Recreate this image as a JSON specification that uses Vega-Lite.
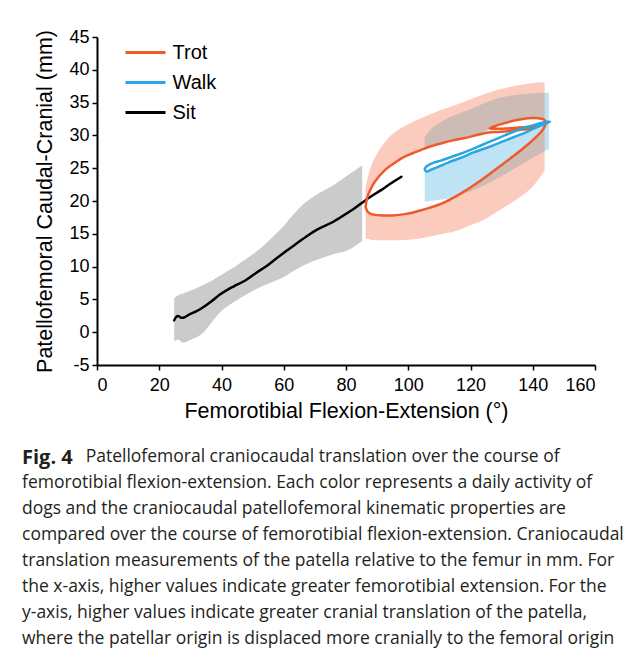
{
  "$schema": "https://vega.github.io/schema/vega-lite/v6.json",
  "width": 498,
  "height": 328,
  "autosize": "none",
  "padding": {"left": 97, "top": 37, "right": 35, "bottom": 290},
  "background": "white",
  "config": {
    "view": {"stroke": null},
    "font": "Liberation Sans",
    "axis": {
      "labelFont": "Liberation Sans", "labelFontSize": 18, "labelColor": "#000",
      "titleFont": "Liberation Sans", "titleFontSize": 21.5, "titleFontWeight": "normal", "titleColor": "#000",
      "domainColor": "#000", "domainWidth": 2, "tickColor": "#000", "tickWidth": 1.5, "tickSize": 5,
      "grid": false
    }
  },
  "title": {
    "text": "Fig. 4",
    "subtitle": [
      "\u200b\u00a0\u00a0\u00a0\u00a0\u00a0\u00a0\u00a0\u00a0\u00a0\u00a0\u00a0\u00a0\u00a0\u00a0Patellofemoral craniocaudal translation over the course of",
      "femorotibial flexion-extension. Each color represents a daily activity of",
      "dogs and the craniocaudal patellofemoral kinematic properties are",
      "compared over the course of femorotibial flexion-extension. Craniocaudal",
      "translation measurements of the patella relative to the femur in mm. For",
      "the x-axis, higher values indicate greater femorotibial extension. For the",
      "y-axis, higher values indicate greater cranial translation of the patella,",
      "where the patellar origin is displaced more cranially to the femoral origin"
    ],
    "orient": "bottom",
    "anchor": "start",
    "frame": "group",
    "dx": -75,
    "offset": 26,
    "font": "Open Sans",
    "fontSize": 20,
    "fontWeight": "bold",
    "color": "#231f20",
    "subtitleFont": "Open Sans",
    "subtitleFontSize": 17.5,
    "subtitleColor": "#231f20",
    "subtitleLineHeight": 26,
    "subtitlePadding": -20
  },
  "datasets": {
    "sitband": [
      {"x": 24.8, "y": -1.4, "y2": 5.2}, {"x": 26, "y": -1.1, "y2": 5.6}, {"x": 27.7, "y": -1.6, "y2": 5.9},
      {"x": 30, "y": -1.2, "y2": 6.3}, {"x": 34.1, "y": -0.1, "y2": 7.2}, {"x": 37, "y": 1.6, "y2": 7.9},
      {"x": 39.5, "y": 3.0, "y2": 8.6}, {"x": 44, "y": 4.6, "y2": 9.9}, {"x": 48, "y": 5.75, "y2": 11.2},
      {"x": 53, "y": 7.0, "y2": 13.0}, {"x": 56.6, "y": 7.7, "y2": 14.6}, {"x": 60, "y": 8.4, "y2": 16.2},
      {"x": 63, "y": 9.3, "y2": 17.9}, {"x": 66, "y": 10.1, "y2": 19.4}, {"x": 69.4, "y": 10.8, "y2": 20.6},
      {"x": 75.9, "y": 11.9, "y2": 22.4}, {"x": 80.2, "y": 12.4, "y2": 23.8}, {"x": 85.2, "y": 13.9, "y2": 25.4}
    ],
    "walkband": [
      {"x": 105.3, "y": 19.9, "y2": 29.7}, {"x": 107, "y": 20.0, "y2": 30.8}, {"x": 110, "y": 20.2, "y2": 31.9},
      {"x": 115, "y": 20.7, "y2": 33.1}, {"x": 120, "y": 21.5, "y2": 34.0}, {"x": 125, "y": 22.5, "y2": 35.0},
      {"x": 130, "y": 23.8, "y2": 35.8}, {"x": 135, "y": 25.2, "y2": 36.2}, {"x": 140, "y": 26.6, "y2": 36.4},
      {"x": 143.8, "y": 27.6, "y2": 36.5}, {"x": 145.2, "y": 27.9, "y2": 36.5}
    ],
    "trotband": [
      {"x": 86.3, "y": 14.3, "y2": 22.0}, {"x": 87, "y": 14.2, "y2": 23.6}, {"x": 88, "y": 14.1, "y2": 25.2},
      {"x": 90, "y": 14.0, "y2": 27.2}, {"x": 92, "y": 14.0, "y2": 28.7}, {"x": 95, "y": 14.0, "y2": 30.2},
      {"x": 100, "y": 14.1, "y2": 31.7}, {"x": 105, "y": 14.4, "y2": 32.8}, {"x": 110, "y": 14.9, "y2": 33.8},
      {"x": 115, "y": 15.4, "y2": 34.6}, {"x": 120, "y": 16.3, "y2": 35.5}, {"x": 125, "y": 17.3, "y2": 36.4},
      {"x": 130, "y": 18.8, "y2": 37.1}, {"x": 135, "y": 20.3, "y2": 37.6}, {"x": 140, "y": 22.2, "y2": 38.0},
      {"x": 143.8, "y": 24.6, "y2": 38.1}
    ],
    "overlap": [
      {"x": 105.3, "y": 19.9, "y2": 29.7}, {"x": 107, "y": 20.0, "y2": 30.8}, {"x": 110, "y": 20.2, "y2": 31.9},
      {"x": 115, "y": 20.7, "y2": 33.1}, {"x": 120, "y": 21.5, "y2": 34.0}, {"x": 125, "y": 22.5, "y2": 35.0},
      {"x": 130, "y": 23.8, "y2": 35.8}, {"x": 135, "y": 25.2, "y2": 36.2}, {"x": 140, "y": 26.6, "y2": 36.4},
      {"x": 143.8, "y": 27.6, "y2": 36.5}
    ],
    "hole": [
      {"x": 86.3, "y": 19.1, "y2": 19.1}, {"x": 86.6, "y": 18.6, "y2": 20.1}, {"x": 87.1, "y": 18.3, "y2": 20.9},
      {"x": 88, "y": 18.1, "y2": 21.8}, {"x": 89.2, "y": 17.95, "y2": 22.9}, {"x": 91, "y": 17.85, "y2": 23.9},
      {"x": 92.5, "y": 17.8, "y2": 24.7}, {"x": 95, "y": 17.8, "y2": 25.6}, {"x": 97.8, "y": 17.95, "y2": 26.5},
      {"x": 101, "y": 18.2, "y2": 27.2}, {"x": 104.2, "y": 18.6, "y2": 27.8}, {"x": 107, "y": 19.0, "y2": 28.3},
      {"x": 110.7, "y": 19.6, "y2": 28.8}, {"x": 114, "y": 20.4, "y2": 29.2}, {"x": 117.1, "y": 21.2, "y2": 29.6},
      {"x": 120, "y": 22.1, "y2": 29.95}, {"x": 123.5, "y": 23.2, "y2": 30.3}, {"x": 126, "y": 24.1, "y2": 30.9},
      {"x": 128, "y": 24.8, "y2": 31.4}, {"x": 130, "y": 25.5, "y2": 31.7}, {"x": 133.2, "y": 26.7, "y2": 32.1},
      {"x": 136.4, "y": 27.8, "y2": 32.4}, {"x": 138.5, "y": 28.6, "y2": 32.55}, {"x": 141.2, "y": 29.8, "y2": 32.6},
      {"x": 142.8, "y": 30.7, "y2": 32.5}, {"x": 143.6, "y": 31.2, "y2": 32.4}, {"x": 144.2, "y": 32.0, "y2": 32.1}
    ],
    "holeblue": [
      {"x": 105.3, "y": 19.9, "y2": 24.8}, {"x": 106, "y": 19.95, "y2": 24.6}, {"x": 109.6, "y": 20.15, "y2": 25.2},
      {"x": 112, "y": 20.3, "y2": 25.7}, {"x": 114, "y": 20.45, "y2": 26.1}, {"x": 117.1, "y": 21.2, "y2": 26.6},
      {"x": 121, "y": 22.4, "y2": 27.4}, {"x": 125.7, "y": 23.9, "y2": 28.2}, {"x": 130, "y": 25.5, "y2": 29.0},
      {"x": 134.2, "y": 27.0, "y2": 29.8}, {"x": 137.5, "y": 28.2, "y2": 30.5}, {"x": 140.6, "y": 29.5, "y2": 31.1},
      {"x": 142.5, "y": 30.5, "y2": 31.5}, {"x": 143.6, "y": 31.2, "y2": 31.8}
    ],
    "lines": [
      {"series": "Sit", "i": 1, "x": 24.8, "y": 1.8}, {"series": "Sit", "i": 2, "x": 25.4, "y": 2.3},
      {"series": "Sit", "i": 3, "x": 26.2, "y": 2.45}, {"series": "Sit", "i": 4, "x": 27, "y": 2.2},
      {"series": "Sit", "i": 5, "x": 28, "y": 2.25}, {"series": "Sit", "i": 6, "x": 30, "y": 2.8},
      {"series": "Sit", "i": 7, "x": 32, "y": 3.2}, {"series": "Sit", "i": 8, "x": 34.1, "y": 3.8},
      {"series": "Sit", "i": 9, "x": 37, "y": 4.8}, {"series": "Sit", "i": 10, "x": 39.5, "y": 5.75},
      {"series": "Sit", "i": 11, "x": 42, "y": 6.5}, {"series": "Sit", "i": 12, "x": 44, "y": 7.0},
      {"series": "Sit", "i": 13, "x": 48, "y": 8.0}, {"series": "Sit", "i": 14, "x": 51, "y": 9.0},
      {"series": "Sit", "i": 15, "x": 54.5, "y": 10.1}, {"series": "Sit", "i": 16, "x": 57.5, "y": 11.2},
      {"series": "Sit", "i": 17, "x": 60.9, "y": 12.4}, {"series": "Sit", "i": 18, "x": 64, "y": 13.5},
      {"series": "Sit", "i": 19, "x": 67.3, "y": 14.6}, {"series": "Sit", "i": 20, "x": 71, "y": 15.7},
      {"series": "Sit", "i": 21, "x": 75.8, "y": 16.8}, {"series": "Sit", "i": 22, "x": 80.2, "y": 18.1},
      {"series": "Sit", "i": 23, "x": 82.8, "y": 18.9}, {"series": "Sit", "i": 24, "x": 86.5, "y": 20.2},
      {"series": "Sit", "i": 25, "x": 91.4, "y": 21.7}, {"series": "Sit", "i": 26, "x": 94.5, "y": 22.7},
      {"series": "Sit", "i": 27, "x": 97.8, "y": 23.7},

      {"series": "Trot", "i": 1, "x": 86.3, "y": 19.1}, {"series": "Trot", "i": 2, "x": 86.9, "y": 18.4},
      {"series": "Trot", "i": 3, "x": 88.2, "y": 18.0}, {"series": "Trot", "i": 4, "x": 91.4, "y": 17.8},
      {"series": "Trot", "i": 5, "x": 95, "y": 17.8}, {"series": "Trot", "i": 6, "x": 98.9, "y": 18.0},
      {"series": "Trot", "i": 7, "x": 104.2, "y": 18.6}, {"series": "Trot", "i": 8, "x": 110.7, "y": 19.6},
      {"series": "Trot", "i": 9, "x": 117.1, "y": 21.2}, {"series": "Trot", "i": 10, "x": 123.5, "y": 23.2},
      {"series": "Trot", "i": 11, "x": 130.0, "y": 25.5}, {"series": "Trot", "i": 12, "x": 136.4, "y": 27.8},
      {"series": "Trot", "i": 13, "x": 141.2, "y": 29.8}, {"series": "Trot", "i": 14, "x": 143.4, "y": 31.0},
      {"series": "Trot", "i": 15, "x": 144.2, "y": 31.9}, {"series": "Trot", "i": 16, "x": 143.7, "y": 32.4},
      {"series": "Trot", "i": 17, "x": 141.8, "y": 32.6}, {"series": "Trot", "i": 18, "x": 138.5, "y": 32.6},
      {"series": "Trot", "i": 19, "x": 134.5, "y": 32.3}, {"series": "Trot", "i": 20, "x": 130.5, "y": 31.8},
      {"series": "Trot", "i": 21, "x": 127.8, "y": 31.4}, {"series": "Trot", "i": 22, "x": 126.2, "y": 31.05},
      {"series": "Trot", "i": 23, "x": 128, "y": 31.0}, {"series": "Trot", "i": 24, "x": 131, "y": 31.05},
      {"series": "Trot", "i": 25, "x": 135, "y": 31.15}, {"series": "Trot", "i": 26, "x": 139, "y": 31.3},
      {"series": "Trot", "i": 27, "x": 141.7, "y": 31.35}, {"series": "Trot", "i": 28, "x": 139, "y": 31.0},
      {"series": "Trot", "i": 29, "x": 135, "y": 30.8}, {"series": "Trot", "i": 30, "x": 131, "y": 30.6},
      {"series": "Trot", "i": 31, "x": 127.5, "y": 30.5}, {"series": "Trot", "i": 32, "x": 125.7, "y": 30.45},
      {"series": "Trot", "i": 33, "x": 122, "y": 30.05}, {"series": "Trot", "i": 34, "x": 118.2, "y": 29.6},
      {"series": "Trot", "i": 35, "x": 114, "y": 29.2}, {"series": "Trot", "i": 36, "x": 110.7, "y": 28.8},
      {"series": "Trot", "i": 37, "x": 107, "y": 28.3}, {"series": "Trot", "i": 38, "x": 104.2, "y": 27.8},
      {"series": "Trot", "i": 39, "x": 101, "y": 27.2}, {"series": "Trot", "i": 40, "x": 97.8, "y": 26.5},
      {"series": "Trot", "i": 41, "x": 95, "y": 25.6}, {"series": "Trot", "i": 42, "x": 92.5, "y": 24.7},
      {"series": "Trot", "i": 43, "x": 89.2, "y": 22.9}, {"series": "Trot", "i": 44, "x": 87.6, "y": 21.5},
      {"series": "Trot", "i": 45, "x": 86.7, "y": 20.3}, {"series": "Trot", "i": 46, "x": 86.3, "y": 19.1},

      {"series": "Walk", "i": 1, "x": 105.3, "y": 24.8}, {"series": "Walk", "i": 2, "x": 105.7, "y": 25.2},
      {"series": "Walk", "i": 3, "x": 106.4, "y": 25.45}, {"series": "Walk", "i": 4, "x": 108, "y": 25.8},
      {"series": "Walk", "i": 5, "x": 110.7, "y": 26.2}, {"series": "Walk", "i": 6, "x": 114.9, "y": 26.9},
      {"series": "Walk", "i": 7, "x": 119, "y": 27.6}, {"series": "Walk", "i": 8, "x": 123.5, "y": 28.5},
      {"series": "Walk", "i": 9, "x": 127, "y": 29.2}, {"series": "Walk", "i": 10, "x": 131, "y": 30.0},
      {"series": "Walk", "i": 11, "x": 134, "y": 30.6}, {"series": "Walk", "i": 12, "x": 136.4, "y": 31.0},
      {"series": "Walk", "i": 13, "x": 140.6, "y": 31.6}, {"series": "Walk", "i": 14, "x": 143, "y": 31.95},
      {"series": "Walk", "i": 15, "x": 145.5, "y": 32.1}, {"series": "Walk", "i": 16, "x": 143.5, "y": 31.7},
      {"series": "Walk", "i": 17, "x": 140.6, "y": 31.1}, {"series": "Walk", "i": 18, "x": 137.5, "y": 30.4},
      {"series": "Walk", "i": 19, "x": 134.2, "y": 29.8}, {"series": "Walk", "i": 20, "x": 130, "y": 29.0},
      {"series": "Walk", "i": 21, "x": 125.7, "y": 28.2}, {"series": "Walk", "i": 22, "x": 121, "y": 27.4},
      {"series": "Walk", "i": 23, "x": 117.1, "y": 26.6}, {"series": "Walk", "i": 24, "x": 113, "y": 25.9},
      {"series": "Walk", "i": 25, "x": 109.6, "y": 25.2}, {"series": "Walk", "i": 26, "x": 107.5, "y": 24.8},
      {"series": "Walk", "i": 27, "x": 105.8, "y": 24.5}, {"series": "Walk", "i": 28, "x": 105.3, "y": 24.8}
    ]
  },
  "encoding": {
    "x": {
      "field": "x", "type": "quantitative",
      "scale": {"domain": [0, 160], "nice": false, "zero": false},
      "axis": {"values": [0, 20, 40, 60, 80, 100, 120, 140, 160], "title": "Femorotibial Flexion-Extension (°)", "labelPadding": 6, "titlePadding": 6}
    },
    "y": {
      "field": "y", "type": "quantitative",
      "scale": {"domain": [-5, 45], "nice": false, "zero": false},
      "axis": {"values": [-5, 0, 5, 10, 15, 20, 25, 30, 35, 40, 45], "labelExpr": "'' + datum.value", "title": "Patellofemoral Caudal-Cranial (mm)", "labelPadding": 3, "titlePadding": 12}
    }
  },
  "layer": [
    {"data": {"name": "sitband"}, "mark": {"type": "area", "color": "#cbcbcb", "interpolate": "monotone"}, "encoding": {"y2": {"field": "y2"}}},
    {"data": {"name": "walkband"}, "mark": {"type": "area", "color": "#bee3f4", "interpolate": "monotone"}, "encoding": {"y2": {"field": "y2"}}},
    {"data": {"name": "trotband"}, "mark": {"type": "area", "color": "#fbcbbd", "interpolate": "monotone"}, "encoding": {"y2": {"field": "y2"}}},
    {"data": {"name": "overlap"}, "mark": {"type": "area", "color": "#cdbbb6", "interpolate": "monotone"}, "encoding": {"y2": {"field": "y2"}}},
    {"data": {"name": "hole"}, "mark": {"type": "area", "color": "#ffffff", "interpolate": "monotone"}, "encoding": {"y2": {"field": "y2"}}},
    {"data": {"name": "holeblue"}, "mark": {"type": "area", "color": "#bee3f4", "interpolate": "monotone"}, "encoding": {"y2": {"field": "y2"}}},
    {
      "data": {"name": "lines"},
      "mark": {"type": "line", "strokeWidth": 2.5, "interpolate": "catmull-rom", "strokeCap": "round", "strokeJoin": "round"},
      "encoding": {
        "order": {"field": "i", "type": "quantitative"},
        "color": {
          "field": "series", "type": "nominal",
          "scale": {"domain": ["Trot", "Walk", "Sit"], "range": ["#ef5a2b", "#27a8e0", "#000000"]},
          "legend": {
            "orient": "none", "legendX": 37, "legendY": 4, "title": null,
            "symbolType": "M-2,0L2,0", "symbolSize": 400, "symbolStrokeWidth": 3,
            "labelFont": "Liberation Sans", "labelFontSize": 20, "labelColor": "#000",
            "labelOffset": 15.5, "rowPadding": 8
          }
        }
      }
    }
  ]
}
